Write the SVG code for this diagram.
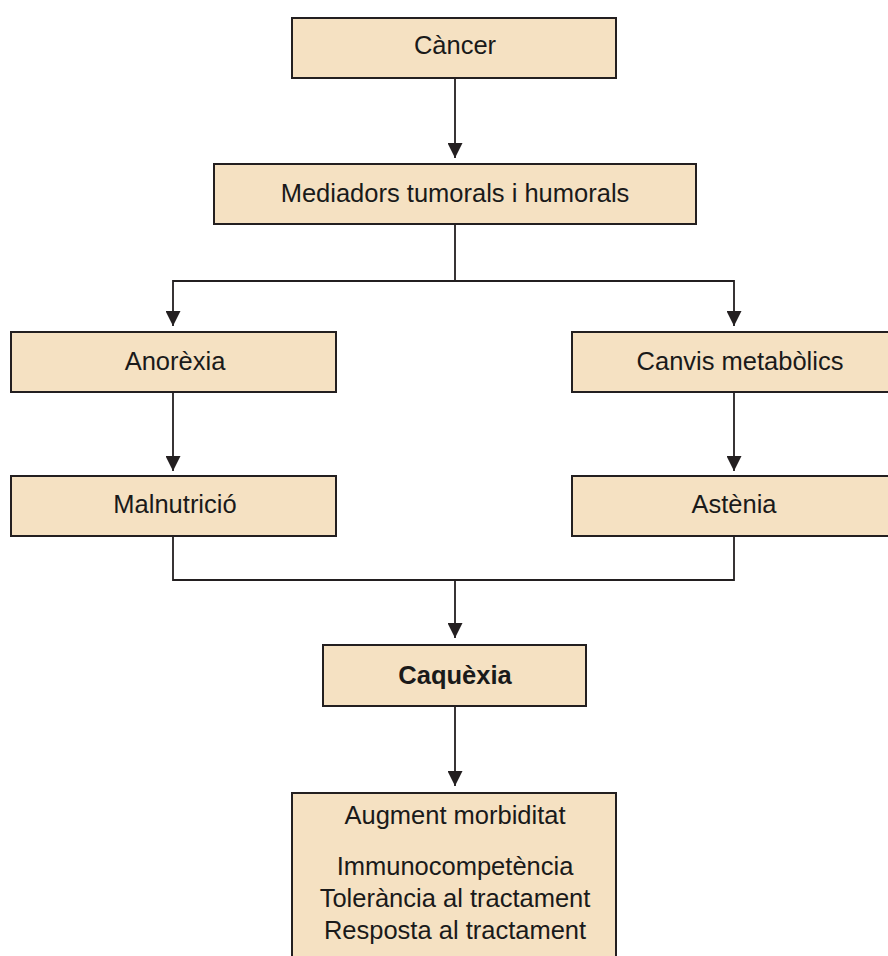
<svg xmlns="http://www.w3.org/2000/svg" width="888" height="956" viewBox="0 0 888 956">
<style>
.box{fill:#f5e1c2;stroke:#231f20;stroke-width:2}
.t{font-family:"Liberation Sans",Arial,sans-serif;font-size:25.5px;fill:#1a1a1a;text-anchor:middle}
.b{font-weight:bold}
.c{fill:none;stroke:#231f20;stroke-width:1.8}
</style>
<defs>
<marker id="ah" markerWidth="15" markerHeight="15" viewBox="0 0 15 15" refX="15" refY="7.5" orient="auto" markerUnits="userSpaceOnUse">
<path d="M0,0 L15,7.5 L0,15 Z" fill="#231f20"/>
</marker>
</defs>
<rect width="888" height="956" fill="#ffffff"/>
<g id="connectors">
<path class="c" d="M455,78 V158" marker-end="url(#ah)"/>
<path class="c" d="M455,224 V281 H173 V326" marker-end="url(#ah)"/>
<path class="c" d="M455,281 H734 V326" marker-end="url(#ah)"/>
<path class="c" d="M173,392 V471" marker-end="url(#ah)"/>
<path class="c" d="M734,392 V471" marker-end="url(#ah)"/>
<path class="c" d="M173,536 V580 H734 V536"/>
<path class="c" d="M455,580 V638" marker-end="url(#ah)"/>
<path class="c" d="M455,706 V786" marker-end="url(#ah)"/>
</g>
<g id="cancer"><rect class="box" x="292" y="18" width="324" height="60"/><text class="t" x="455" y="54">Càncer</text></g>
<g id="mediadors"><rect class="box" x="214" y="164" width="482" height="60"/><text class="t" x="455" y="202">Mediadors tumorals i humorals</text></g>
<g id="anorexia"><rect class="box" x="11" y="332" width="325" height="60"/><text class="t" x="175" y="370">Anorèxia</text></g>
<g id="canvis"><rect class="box" x="572" y="332" width="320" height="60"/><text class="t" x="740" y="370">Canvis metabòlics</text></g>
<g id="malnutricio"><rect class="box" x="11" y="476" width="325" height="60"/><text class="t" x="175" y="513">Malnutrició</text></g>
<g id="astenia"><rect class="box" x="572" y="476" width="320" height="60"/><text class="t" x="734" y="513">Astènia</text></g>
<g id="caquexia"><rect class="box" x="323" y="645" width="263" height="61"/><text class="t b" x="455" y="684">Caquèxia</text></g>
<g id="augment"><rect class="box" x="292" y="793" width="324" height="170"/>
<text class="t" x="455" y="824">Augment morbiditat</text>
<text class="t" x="455" y="875">Immunocompetència</text>
<text class="t" x="455" y="907">Tolerància al tractament</text>
<text class="t" x="455" y="939">Resposta al tractament</text>
</g>
</svg>
